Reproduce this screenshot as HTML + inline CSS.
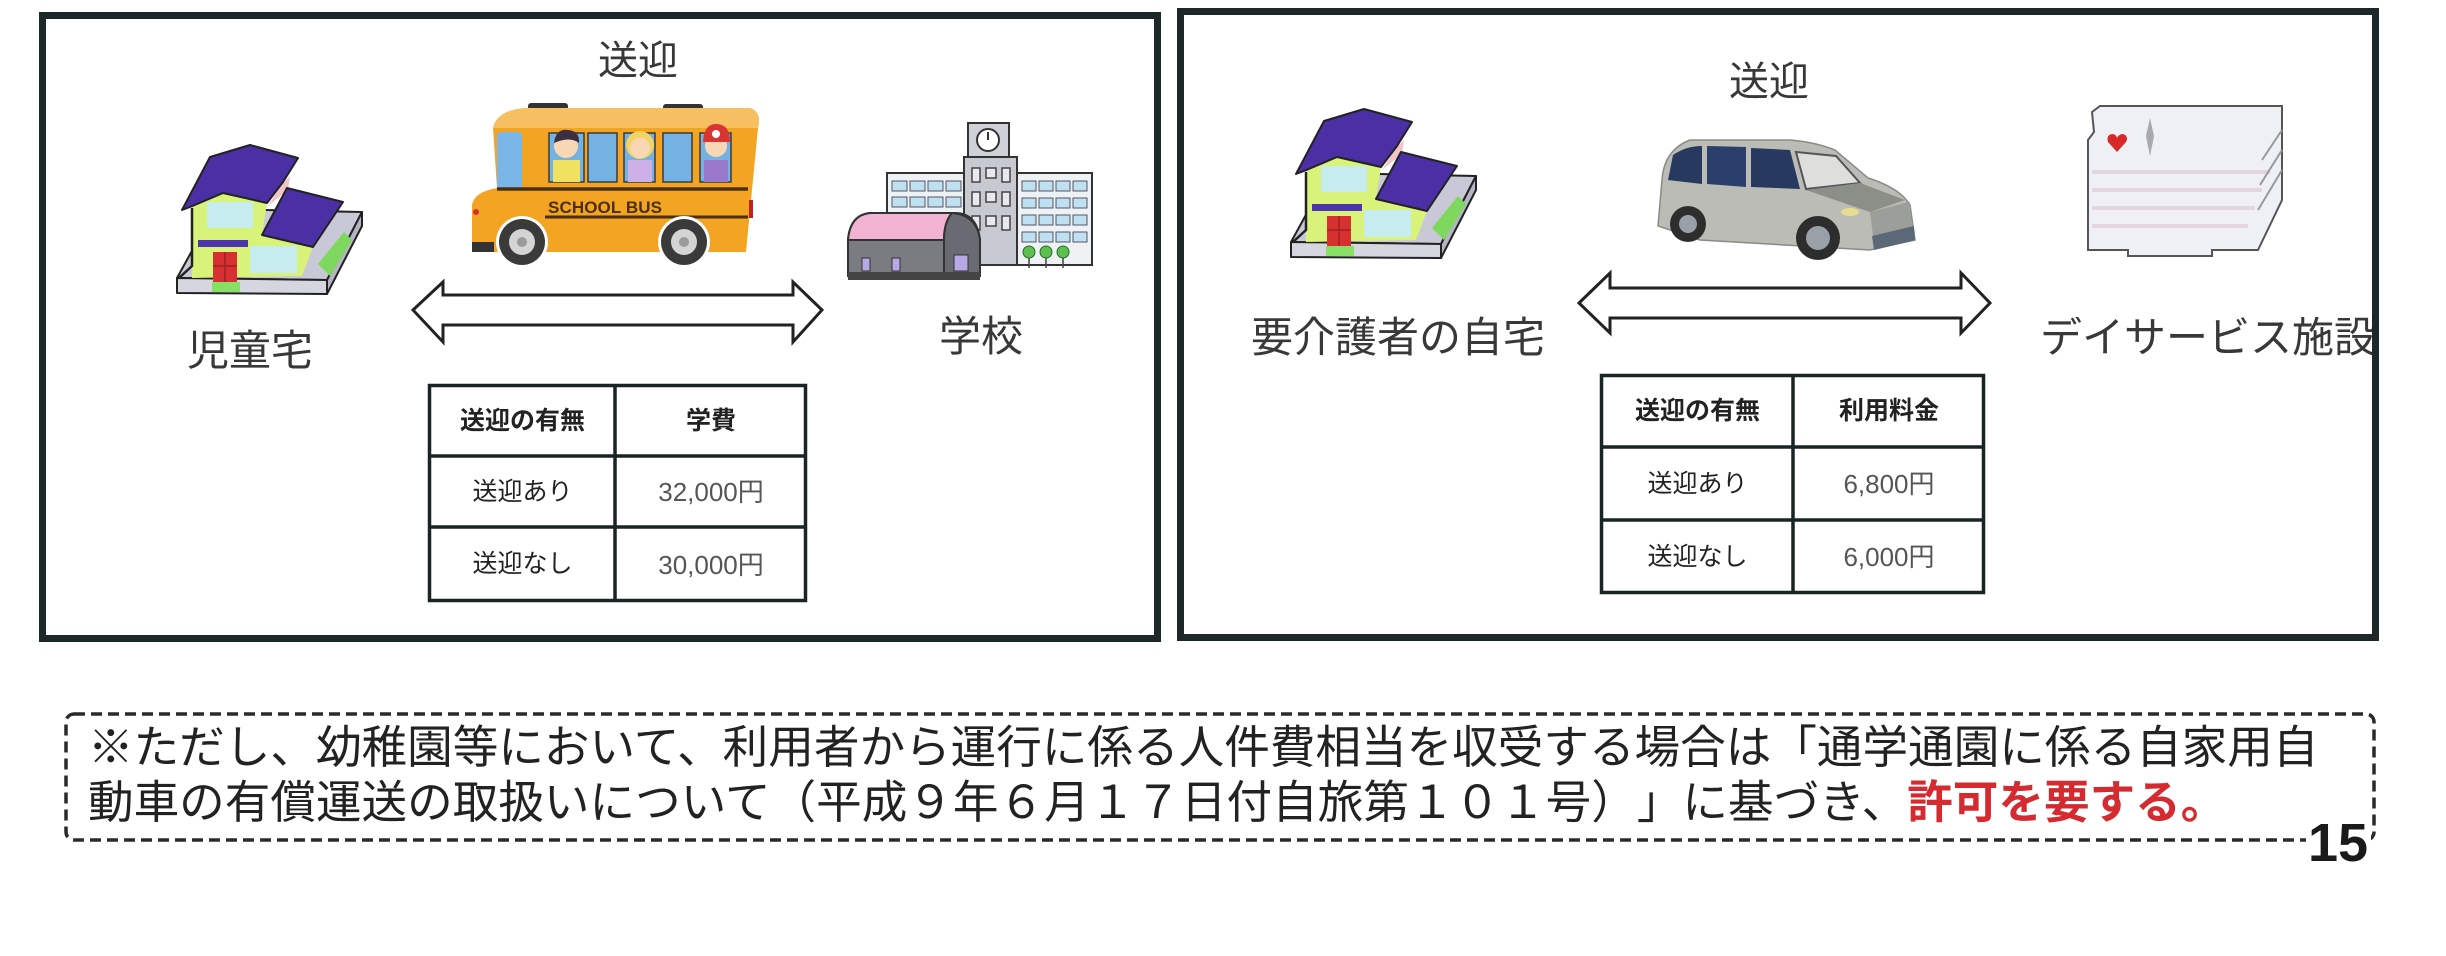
<!DOCTYPE html>
<html><head><meta charset="utf-8"><style>
html,body{margin:0;padding:0;background:#fff;}
body{width:2446px;height:956px;position:relative;overflow:hidden;font-family:"Liberation Sans","Noto Sans CJK JP",sans-serif;text-spacing-trim:space-all;}
.t{position:absolute;white-space:nowrap;line-height:1;color:#383838;text-spacing-trim:space-all;}
.c{position:absolute;display:flex;align-items:center;justify-content:center;line-height:1;white-space:nowrap;}
.h{font-size:25px;font-weight:bold;color:#222;}
.b{font-size:25px;color:#222;}
.n{font-size:26px;color:#555;}
</style></head><body>
<svg width="2446" height="956" viewBox="0 0 2446 956" style="position:absolute;left:0;top:0" xmlns="http://www.w3.org/2000/svg">
<!-- panels -->
<rect x="42.5" y="15.5" width="1115" height="623" fill="none" stroke="#1d2828" stroke-width="7"/>
<rect x="1180.5" y="11.5" width="1195" height="626" fill="none" stroke="#1d2828" stroke-width="7"/>

<!-- arrows -->
<path d="M413,310 L443,282 L443,295 L793,295 L793,282 L822,310 L793,342 L793,325 L443,325 L443,342 Z" fill="#fff" stroke="#222" stroke-width="3" stroke-linejoin="miter"/>
<path d="M1579,303 L1610,273 L1610,288 L1961,288 L1961,273 L1990,303 L1961,333 L1961,318 L1610,318 L1610,333 Z" fill="#fff" stroke="#222" stroke-width="3"/>

<!-- tables -->
<g fill="none" stroke="#1a2424" stroke-width="3.5">
<rect x="429.5" y="385.5" width="376" height="215"/>
<line x1="615" y1="385" x2="615" y2="601"/>
<line x1="429" y1="456" x2="806" y2="456"/>
<line x1="429" y1="527" x2="806" y2="527"/>
<rect x="1601.5" y="375.5" width="382" height="217"/>
<line x1="1793" y1="375" x2="1793" y2="593"/>
<line x1="1601" y1="447" x2="1984" y2="447"/>
<line x1="1601" y1="520" x2="1984" y2="520"/>
</g>

<!-- dashed box -->
<rect x="66" y="714" width="2308" height="126" rx="8" fill="none" stroke="#2a2a2a" stroke-width="3.5" stroke-dasharray="11 6"/>

<!-- house (left) -->
<g stroke-linejoin="round">
<polygon points="177,278 327,280 362,212 215,209" fill="#c8c8d6" stroke="#222" stroke-width="2"/>
<polygon points="177,278 327,280 327,294 177,293" fill="#d6d6e0" stroke="#222" stroke-width="2"/>
<polygon points="327,280 362,212 362,226 327,294" fill="#b4b4c4" stroke="#222" stroke-width="2"/>
<polygon points="318,264 344,232 352,240 330,276" fill="#7fd85e"/>
<polygon points="192,207 223,193 267,203 262,235 313,247 302,276 192,278" fill="#d8f27a"/>
<rect x="207" y="202" width="46" height="26" fill="#c6ecf0"/>
<rect x="250" y="246" width="47" height="27" fill="#c6ecf0"/>
<polyline points="192,208 192,266 179,278" fill="none" stroke="#222" stroke-width="2.5"/>
<rect x="198" y="240" width="50" height="7" fill="#4b35a8"/>
<rect x="213" y="252" width="24" height="30" fill="#d63030"/>
<line x1="225" y1="252" x2="225" y2="282" stroke="#a02020" stroke-width="1.5"/>
<line x1="213" y1="266" x2="237" y2="266" stroke="#a02020" stroke-width="1.5"/>
<rect x="212" y="282" width="28" height="10" fill="#86e064"/>
<polygon points="282,184 290,176 288,190 268,206" fill="#f2c4c8"/>
<polygon points="182,210 210,157 250,145 298,158 283,182 267,203 223,193 190,207" fill="#4a2fa5" stroke="#222" stroke-width="2"/>
<polygon points="262,235 287,188 343,202 313,247" fill="#4a2fa5" stroke="#222" stroke-width="2"/>
</g>
<!-- house (right) -->
<g transform="translate(1114,-36)" stroke-linejoin="round">
<polygon points="177,278 327,280 362,212 215,209" fill="#c8c8d6" stroke="#222" stroke-width="2"/>
<polygon points="177,278 327,280 327,294 177,293" fill="#d6d6e0" stroke="#222" stroke-width="2"/>
<polygon points="327,280 362,212 362,226 327,294" fill="#b4b4c4" stroke="#222" stroke-width="2"/>
<polygon points="318,264 344,232 352,240 330,276" fill="#7fd85e"/>
<polygon points="192,207 223,193 267,203 262,235 313,247 302,276 192,278" fill="#d8f27a"/>
<rect x="207" y="202" width="46" height="26" fill="#c6ecf0"/>
<rect x="250" y="246" width="47" height="27" fill="#c6ecf0"/>
<polyline points="192,208 192,266 179,278" fill="none" stroke="#222" stroke-width="2.5"/>
<rect x="198" y="240" width="50" height="7" fill="#4b35a8"/>
<rect x="213" y="252" width="24" height="30" fill="#d63030"/>
<line x1="225" y1="252" x2="225" y2="282" stroke="#a02020" stroke-width="1.5"/>
<line x1="213" y1="266" x2="237" y2="266" stroke="#a02020" stroke-width="1.5"/>
<rect x="212" y="282" width="28" height="10" fill="#86e064"/>
<polygon points="282,184 290,176 288,190 268,206" fill="#f2c4c8"/>
<polygon points="182,210 210,157 250,145 298,158 283,182 267,203 223,193 190,207" fill="#4a2fa5" stroke="#222" stroke-width="2"/>
<polygon points="262,235 287,188 343,202 313,247" fill="#4a2fa5" stroke="#222" stroke-width="2"/>
</g>

<!-- school bus -->
<g>
<rect x="528" y="103" width="40" height="7" rx="3" fill="#333"/>
<rect x="663" y="104" width="40" height="7" rx="3" fill="#333"/>
<path d="M493,128 Q497,110 526,108 L750,108 Q762,112 758,128 L746,252 L472,252 L472,205 Q474,192 497,188 Z" fill="#f2a422"/>
<path d="M493,128 Q497,110 526,108 L750,108 Q762,112 758,128 Z" fill="#f6c062"/>
<rect x="497" y="132" width="25" height="58" rx="4" fill="#7ab6e8"/>
<g fill="#74b2e4" stroke="#3a3a3a" stroke-width="1.5">
<rect x="549" y="133" width="35" height="49"/>
<rect x="588" y="133" width="29" height="49"/>
<rect x="624" y="133" width="31" height="49"/>
<rect x="663" y="133" width="29" height="49"/>
<rect x="700" y="133" width="31" height="49"/>
</g>
<rect x="553" y="160" width="27" height="22" fill="#f0e260"/>
<circle cx="566" cy="146" r="12" fill="#f8d8b4"/>
<path d="M554,143 Q556,128 568,130 Q580,131 579,143 Q570,136 554,143 Z" fill="#3a3040"/>
<rect x="628" y="160" width="24" height="22" fill="#cdb0e6"/>
<circle cx="640" cy="145" r="14" fill="#f2d466"/>
<circle cx="640" cy="148" r="10" fill="#f8d8b4"/>
<rect x="704" y="160" width="24" height="22" fill="#9a78cc"/>
<circle cx="716" cy="146" r="11" fill="#f8d8b4"/>
<path d="M703,142 Q704,124 716,124 Q730,124 730,142 Z" fill="#d83434"/>
<circle cx="716" cy="134" r="4" fill="#fff"/>
<line x1="497" y1="189" x2="748" y2="189" stroke="#4a3010" stroke-width="3.5"/>
<line x1="545" y1="217" x2="748" y2="217" stroke="#4a3010" stroke-width="3"/>
<text x="548" y="213" font-family="Liberation Sans, sans-serif" font-size="17" font-weight="bold" fill="#4a3010" textLength="114">SCHOOL BUS</text>
<rect x="472" y="242" width="22" height="10" fill="#333"/>
<circle cx="476" cy="212" r="3" fill="#d03030"/>
<rect x="749" y="200" width="4" height="18" fill="#c02020"/>
<circle cx="522" cy="242" r="26" fill="#fff"/>
<circle cx="684" cy="242" r="26" fill="#fff"/>
<circle cx="522" cy="242" r="23" fill="#3a3a3a"/>
<circle cx="522" cy="242" r="13" fill="#d4d4d4"/>
<circle cx="522" cy="242" r="5" fill="#9a9a9a"/>
<circle cx="684" cy="242" r="23" fill="#3a3a3a"/>
<circle cx="684" cy="242" r="13" fill="#d4d4d4"/>
<circle cx="684" cy="242" r="5" fill="#9a9a9a"/>
</g>

<!-- school -->
<g stroke="#333" stroke-width="2">
<rect x="887" y="173" width="78" height="92" fill="#eef2f4"/>
<rect x="1017" y="173" width="75" height="92" fill="#eef2f4"/>
<rect x="964" y="157" width="53" height="108" fill="#c9c9d2"/>
<rect x="968" y="123" width="41" height="34" fill="#d0d0d8"/>
<circle cx="988" cy="140" r="11" fill="#fff"/>
</g>
<g fill="#bfe0f0" stroke="#556" stroke-width="1">
<rect x="892" y="181" width="15" height="10"/><rect x="910" y="181" width="15" height="10"/><rect x="928" y="181" width="15" height="10"/><rect x="946" y="181" width="15" height="10"/>
<rect x="892" y="197" width="15" height="10"/><rect x="910" y="197" width="15" height="10"/><rect x="928" y="197" width="15" height="10"/><rect x="946" y="197" width="15" height="10"/>
<rect x="1022" y="181" width="14" height="10"/><rect x="1039" y="181" width="14" height="10"/><rect x="1056" y="181" width="14" height="10"/><rect x="1073" y="181" width="14" height="10"/>
<rect x="1022" y="198" width="14" height="10"/><rect x="1039" y="198" width="14" height="10"/><rect x="1056" y="198" width="14" height="10"/><rect x="1073" y="198" width="14" height="10"/>
<rect x="1022" y="215" width="14" height="10"/><rect x="1039" y="215" width="14" height="10"/><rect x="1056" y="215" width="14" height="10"/><rect x="1073" y="215" width="14" height="10"/>
<rect x="1022" y="232" width="14" height="10"/><rect x="1039" y="232" width="14" height="10"/><rect x="1056" y="232" width="14" height="10"/><rect x="1073" y="232" width="14" height="10"/>
</g>
<g fill="#e8e8ee" stroke="#444" stroke-width="1.5">
<rect x="972" y="168" width="8" height="14"/><rect x="986" y="168" width="10" height="10"/><rect x="1002" y="168" width="8" height="14"/>
<rect x="972" y="192" width="8" height="14"/><rect x="986" y="192" width="10" height="10"/><rect x="1002" y="192" width="8" height="14"/>
<rect x="972" y="216" width="8" height="14"/><rect x="986" y="216" width="10" height="10"/><rect x="1002" y="216" width="8" height="14"/>
</g>
<line x1="988" y1="140" x2="988" y2="132" stroke="#333" stroke-width="2"/>
<g stroke="#333" stroke-width="2">
<path d="M848,240 L848,276 L980,276 L980,240 Q977,213 955,213 L870,213 Q850,215 848,240 Z" fill="#7b7b82"/>
<path d="M848,240 Q850,215 870,213 L952,213 Q944,222 944,240 Z" fill="#f2b3d3"/>
<path d="M944,240 Q944,222 952,213 Q977,215 980,240 L980,276 L944,276 Z" fill="#6a6a72"/>
</g>
<rect x="848" y="272" width="132" height="8" fill="#444"/>
<g fill="#b8a8e8" stroke="#333" stroke-width="1"><rect x="862" y="258" width="8" height="13"/><rect x="892" y="258" width="8" height="13"/><rect x="954" y="255" width="14" height="16"/></g>
<g fill="#5cbf50" stroke="#2a6a2a" stroke-width="1"><circle cx="1029" cy="252" r="6"/><circle cx="1046" cy="252" r="6"/><circle cx="1063" cy="252" r="6"/></g>
<g stroke="#444" stroke-width="1.5"><line x1="1029" y1="258" x2="1029" y2="268"/><line x1="1046" y1="258" x2="1046" y2="268"/><line x1="1063" y1="258" x2="1063" y2="268"/></g>

<!-- van -->
<g>
<path d="M1662,180 Q1664,150 1690,140 L1790,140 Q1815,142 1835,150 L1868,178 Q1900,188 1910,205 L1915,240 L1870,250 L1700,240 L1658,226 Z" fill="#bcbcb6" stroke="#8a8a86" stroke-width="1.5"/>
<path d="M1668,180 L1673,155 Q1686,146 1702,146 L1702,184 Z" fill="#27395e"/>
<path d="M1707,146 L1746,147 L1746,187 L1707,184 Z" fill="#2a3f6c"/>
<path d="M1751,148 L1790,150 L1800,189 L1751,187 Z" fill="#27395e"/>
<path d="M1796,152 L1836,156 L1860,183 L1806,189 Z" fill="#dedfdd" stroke="#555" stroke-width="2"/>
<polygon points="1806,190 1860,183 1905,200 1870,212" fill="#8c8e88"/>
<polygon points="1870,212 1908,202 1914,232 1874,244" fill="#9c9e9a"/>
<polygon points="1872,236 1914,226 1915,240 1874,250" fill="#5a6878"/>
<ellipse cx="1850" cy="212" rx="9" ry="4" fill="#e8dc90"/>
<circle cx="1688" cy="224" r="18" fill="#2d2d2d"/>
<circle cx="1688" cy="224" r="9" fill="#9aa0a8"/>
<circle cx="1818" cy="238" r="22" fill="#2d2d2d"/>
<circle cx="1818" cy="238" r="12" fill="#9aa0a8"/>
</g>

<!-- facility -->
<g>
<path d="M2092,112 L2100,106 L2282,106 L2282,200 L2258,250 L2212,250 L2212,256 L2128,256 L2128,250 L2088,250 L2088,140 L2094,132 Z" fill="#eef0f5" stroke="#555" stroke-width="2"/>
<g stroke="#e4d6de" stroke-width="4"><line x1="2092" y1="172" x2="2270" y2="172"/><line x1="2092" y1="190" x2="2262" y2="190"/><line x1="2092" y1="208" x2="2255" y2="208"/><line x1="2092" y1="226" x2="2248" y2="226"/></g>
<g stroke="#999" stroke-width="2"><line x1="2282" y1="130" x2="2262" y2="160"/><line x1="2282" y1="150" x2="2260" y2="185"/><line x1="2282" y1="170" x2="2258" y2="210"/></g>
<path d="M2150,118 L2154,136 L2150,156 L2146,136 Z" fill="#a8a8b0"/>
<path d="M2117,152 L2108,142 Q2106,135 2112,134 Q2116,134 2117,138 Q2119,134 2123,134 Q2129,136 2126,142 Z" fill="#d82828"/>
</g>
</svg>

<!-- labels -->
<div class="t" style="left:598px;top:41px;font-size:40px;">送迎</div>
<div class="t" style="left:1729px;top:62px;font-size:40px;">送迎</div>
<div class="t" style="left:187px;top:330px;font-size:42px;">児童宅</div>
<div class="t" style="left:939px;top:316px;font-size:42px;">学校</div>
<div class="t" style="left:1251px;top:317px;font-size:42px;">要介護者の自宅</div>
<div class="t" style="left:2040px;top:317px;font-size:42px;width:332px;overflow:hidden;">デイサービス施設</div>

<!-- table left -->
<div class="c h" style="left:431px;top:387px;width:183px;height:68px;">送迎の有無</div>
<div class="c h" style="left:617px;top:387px;width:188px;height:68px;">学費</div>
<div class="c b" style="left:431px;top:458px;width:183px;height:68px;">送迎あり</div>
<div class="c n" style="left:617px;top:458px;width:188px;height:68px;">32,000円</div>
<div class="c b" style="left:431px;top:529px;width:183px;height:71px;">送迎なし</div>
<div class="c n" style="left:617px;top:529px;width:188px;height:71px;">30,000円</div>
<!-- table right -->
<div class="c h" style="left:1603px;top:377px;width:189px;height:69px;">送迎の有無</div>
<div class="c h" style="left:1795px;top:377px;width:188px;height:69px;">利用料金</div>
<div class="c b" style="left:1603px;top:449px;width:189px;height:70px;">送迎あり</div>
<div class="c n" style="left:1795px;top:449px;width:188px;height:70px;">6,800円</div>
<div class="c b" style="left:1603px;top:522px;width:189px;height:70px;">送迎なし</div>
<div class="c n" style="left:1795px;top:522px;width:188px;height:70px;">6,000円</div>

<!-- note -->
<div class="t" style="left:88px;top:725px;font-size:45.6px;color:#222;">※ただし、幼稚園等において、利用者から運行に係る人件費相当を収受する場合は「通学通園に係る自家用自</div>
<div class="t" style="left:88px;top:780px;font-size:45.6px;color:#222;">動車の有償運送の取扱いについて（平成９年６月１７日付自旅第１０１号）」に基づき、<span style="color:#d42a30;font-weight:bold;">許可を要する。</span></div>

<div class="t" style="left:2306px;top:816px;font-size:54px;font-weight:bold;color:#1a1a1a;background:#fff;padding:0 3px 0 2px;">15</div>
</body></html>
